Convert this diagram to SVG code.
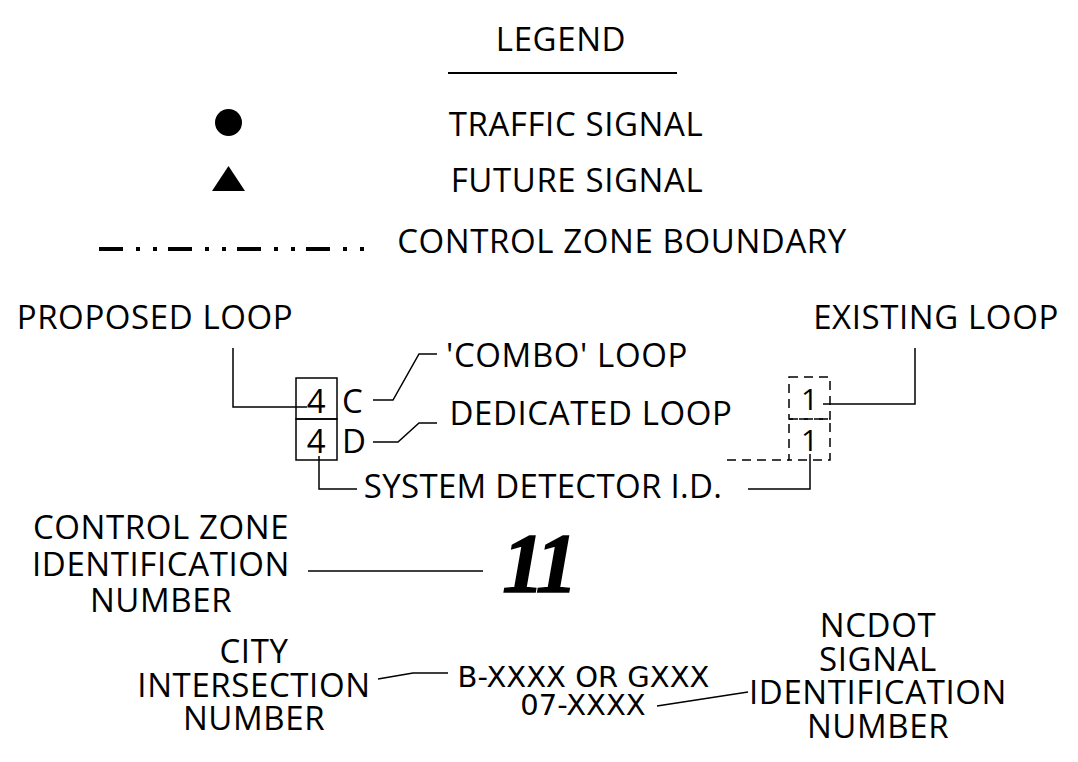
<svg xmlns="http://www.w3.org/2000/svg" width="1078" height="762" viewBox="0 0 1078 762">
<style>
.t{font-family:"Open Sans","Noto Sans","DejaVu Sans",sans-serif;font-size:33px;letter-spacing:0.6px;fill:#000}
.m{text-anchor:middle}
.d{font-family:"DejaVu Sans","Open Sans",sans-serif;font-size:29px;fill:#000;text-anchor:middle}
.ln{fill:none;stroke:#000;stroke-width:1.5}
.dash{fill:none;stroke:#000;stroke-width:1.5;stroke-dasharray:9 6}
</style>
<rect width="1078" height="762" fill="#fff"/>
<g id="legend-title">
<text class="t m" x="561" y="51">LEGEND</text>
<line x1="448" y1="73" x2="677" y2="73" stroke="#000" stroke-width="2"/>
</g>
<g id="traffic-signal">
<circle cx="228.5" cy="122.5" r="13.5" fill="#000"/>
<text class="t m" x="576" y="136">TRAFFIC SIGNAL</text>
</g>
<g id="future-signal">
<polygon points="228.5,166 245,191 212,191" fill="#000"/>
<text class="t m" x="577" y="192">FUTURE SIGNAL</text>
</g>
<g id="control-zone-boundary">
<line x1="99" y1="249" x2="364" y2="249" stroke="#000" stroke-width="4" stroke-dasharray="24 13 4 13 4 11"/>
<text class="t m" x="622" y="253">CONTROL ZONE BOUNDARY</text>
</g>
<g id="proposed-loop">
<text class="t m" x="155" y="329">PROPOSED LOOP</text>
<rect x="296" y="378" width="41" height="41" class="ln"/>
<rect x="296" y="419" width="41" height="41" class="ln"/>
<text class="t m" x="316.5" y="413">4</text>
<text class="t m" x="316.5" y="453">4</text>
<text class="t" x="342" y="413">C</text>
<text class="t" x="342" y="453">D</text>
</g>
<g id="combo-loop"><text class="t m" x="567" y="367">'COMBO' LOOP</text></g>
<g id="dedicated-loop"><text class="t m" x="591" y="425">DEDICATED LOOP</text></g>
<g id="existing-loop">
<text class="t m" x="936" y="329">EXISTING LOOP</text>
<rect x="789" y="377" width="41" height="42" class="dash"/>
<rect x="789" y="419" width="41" height="41" class="dash"/>
<line x1="727" y1="460" x2="789" y2="460" class="dash"/>
<text class="t m" x="810" y="410" style="font-size:30px">1</text>
<text class="t m" x="810" y="451" style="font-size:30px">1</text>
</g>
<g id="system-detector"><text class="t m" x="543" y="498" style="letter-spacing:0.3px">SYSTEM DETECTOR I.D.</text></g>
<g id="control-zone-id">
<text class="t m" x="161" y="539">CONTROL ZONE</text>
<text class="t m" x="161" y="576">IDENTIFICATION</text>
<text class="t m" x="161" y="612">NUMBER</text>
<text x="538" y="592" style="font-family:'Liberation Serif','DejaVu Serif',serif;font-weight:bold;font-style:italic;font-size:84px;letter-spacing:-4px;text-anchor:middle;stroke:#000;stroke-width:1.5">11</text>
</g>
<g id="city-intersection">
<text class="t m" x="254" y="663">CITY</text>
<text class="t m" x="254" y="697">INTERSECTION</text>
<text class="t m" x="254" y="730">NUMBER</text>
</g>
<g id="numbers">
<text class="d" x="583.5" y="687">B-XXXX OR GXXX</text>
<text class="d" x="583" y="715">07-XXXX</text>
</g>
<g id="ncdot-signal">
<text class="t m" x="878" y="637">NCDOT</text>
<text class="t m" x="878" y="671">SIGNAL</text>
<text class="t m" x="878" y="704">IDENTIFICATION</text>
<text class="t m" x="878" y="738">NUMBER</text>
</g>
<g id="connectors">
<polyline class="ln" points="233,348 233,407 307,407"/>
<polyline class="ln" points="373,400 393,400 419,354 437,354"/>
<polyline class="ln" points="373,442 398,442 419,423 437,423"/>
<polyline class="ln" points="319,456 319,489 357,489"/>
<polyline class="ln" points="823,404 915,404 915,348"/>
<polyline class="ln" points="810,454 810,489 748,489"/>
<line class="ln" x1="308" y1="571" x2="483" y2="571"/>
<polyline class="ln" points="378,679 413,673 448,673"/>
<line class="ln" x1="657" y1="706" x2="748" y2="692"/>
</g>
</svg>
